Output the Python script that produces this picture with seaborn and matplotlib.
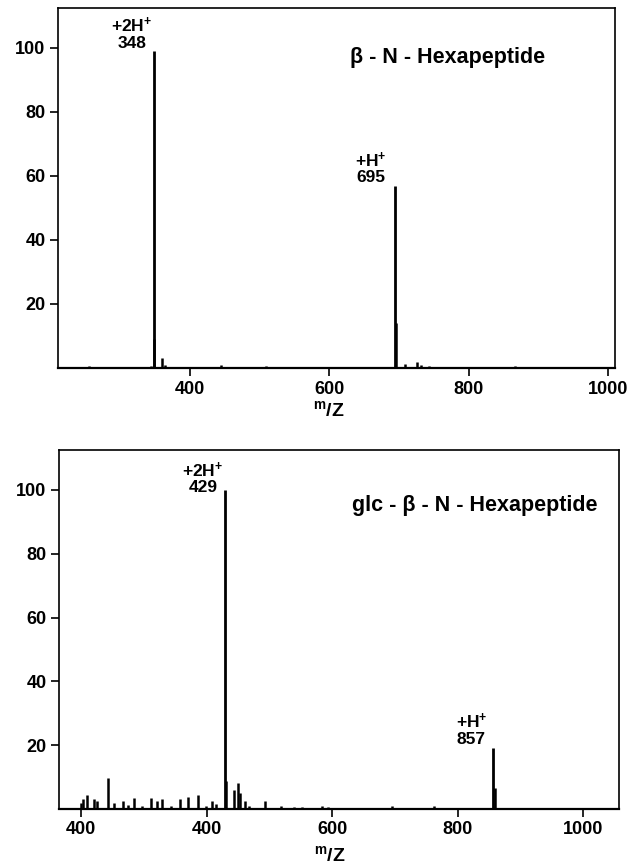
import matplotlib
matplotlib.use("Agg")
import matplotlib.pyplot as plt
import seaborn as sns
import pandas as pd

# ---- data: top panel (beta-N-Hexapeptide) ----
top_mz = [238, 255, 279, 329, 345, 348, 349, 360, 365, 393, 445, 454, 483, 510, 560, 583,
          640, 695, 696, 709, 726, 731, 743, 757, 771, 791, 867]
top_int = [0.3, 0.5, 0.3, 0.3, 0.5, 99, 9, 3.1, 1.0, 0.3, 0.8, 0.3, 0.3, 0.5, 0.3, 0.3,
           0.3, 57, 14, 1.4, 1.8, 0.8, 0.6, 0.4, 0.4, 0.4, 0.5]

# ---- data: bottom panel (glc-beta-N-Hexapeptide) ----
bot_mz = [200, 204, 210, 220, 226, 243, 252, 267, 275, 285, 298, 311, 321, 329, 344, 357,
          371, 387, 399, 408, 415, 429, 431, 444, 450, 454, 461, 467, 493, 518, 539, 552,
          584, 594, 626, 654, 695, 762, 773, 857, 860, 880, 922, 942, 958, 1000]
bot_int = [1.9, 3.2, 4.5, 3.2, 2.6, 9.6, 1.9, 2.6, 1.4, 3.3, 1.0, 3.3, 2.4, 3.2, 0.8, 3.2,
           3.8, 4.5, 1.0, 2.4, 1.7, 100, 8.7, 5.9, 8.0, 5.0, 2.4, 0.8, 2.4, 0.8, 0.5, 0.5,
           1.0, 0.5, 0.3, 0.3, 1.0, 1.0, 0.3, 19, 6.6, 0.3, 0.3, 0.3, 0.3, 0.3]

y_ticks = [20, 40, 60, 80, 100]
top_xticks = [400, 600, 800, 1000]
top_xticklabels = ["400", "600", "800", "1000"]
bot_xticks = [200, 400, 600, 800, 1000]
bot_xticklabels = ["400", "400", "600", "800", "1000"]

top_title = "β - N - Hexapeptide"
bot_title = "glc - β - N - Hexapeptide"

sns.set_theme(style="ticks")
plt.rcParams["font.family"] = ["Liberation Sans", "DejaVu Sans"]
plt.rcParams["font.weight"] = "bold"
plt.rcParams["mathtext.fontset"] = "custom"
plt.rcParams["mathtext.rm"] = "Liberation Sans:bold"
plt.rcParams["mathtext.it"] = "Liberation Sans:bold"
plt.rcParams["mathtext.bf"] = "Liberation Sans:bold"

W, H = 630, 866
fig = plt.figure(figsize=(W / 100, H / 100), dpi=100)
ax1 = fig.add_axes([58 / W, 1 - 368 / H, (615 - 58) / W, 360 / H])
ax2 = fig.add_axes([59 / W, 1 - 809 / H, (619 - 59) / W, 359 / H])

df_top = pd.DataFrame({"mz": top_mz, "intensity": top_int})
df_bot = pd.DataFrame({"mz": bot_mz, "intensity": bot_int})


def draw(ax, df, xlim, xticks, xticklabels):
    big = df[df.intensity >= 15]
    small = df[df.intensity < 15]
    ax.vlines(small.mz, 0, small.intensity, color="black", lw=1.8)
    ax.vlines(big.mz, 0, big.intensity, color="black", lw=2.0)
    ax.set_xlim(*xlim)
    ax.set_ylim(0, 112.5)
    ax.set_yticks(y_ticks)
    ax.set_xticks(xticks)
    ax.set_xticklabels(xticklabels)
    ax.tick_params(axis="both", direction="out", length=6, width=1.2,
                   labelsize=13, colors="black", pad=3)
    for lab in ax.get_xticklabels() + ax.get_yticklabels():
        lab.set_fontweight("bold")
    for side, s in ax.spines.items():
        s.set_visible(True)
        s.set_linewidth(1.6 if side == "bottom" else 1.2)
        s.set_color("black")
    ax.set_facecolor("white")


draw(ax1, df_top, (211, 1010), top_xticks, top_xticklabels)
draw(ax2, df_bot, (165, 1057), bot_xticks, bot_xticklabels)

lab_kw = dict(ha="center", va="center", fontsize=12.5, fontweight="bold", color="black")
ax1.text(317, 107, r"+2H$^{+}$", **lab_kw)
ax1.text(317, 101.5, "348", **lab_kw)
ax1.text(660, 65, r"+H$^{+}$", **lab_kw)
ax1.text(660, 59.4, "695", **lab_kw)
ax1.text(770, 97, top_title, ha="center", va="center", fontsize=15.5,
         fontweight="bold", color="black")

ax2.text(393, 106, r"+2H$^{+}$", **lab_kw)
ax2.text(394, 100.6, "429", **lab_kw)
ax2.text(822, 27.5, r"+H$^{+}$", **lab_kw)
ax2.text(822, 21.9, "857", **lab_kw)
ax2.text(828, 95, bot_title, ha="center", va="center", fontsize=15.5,
         fontweight="bold", color="black")

xl = r"${}^{\mathrm{m}}/\mathrm{Z}$"
fig.text(329 / W, 1 - 410 / H, xl, ha="center", va="center", fontsize=14, color="black")
fig.text(330 / W, 1 - 855 / H, xl, ha="center", va="center", fontsize=14, color="black")

fig.savefig("out.png", dpi=100, facecolor="white")
